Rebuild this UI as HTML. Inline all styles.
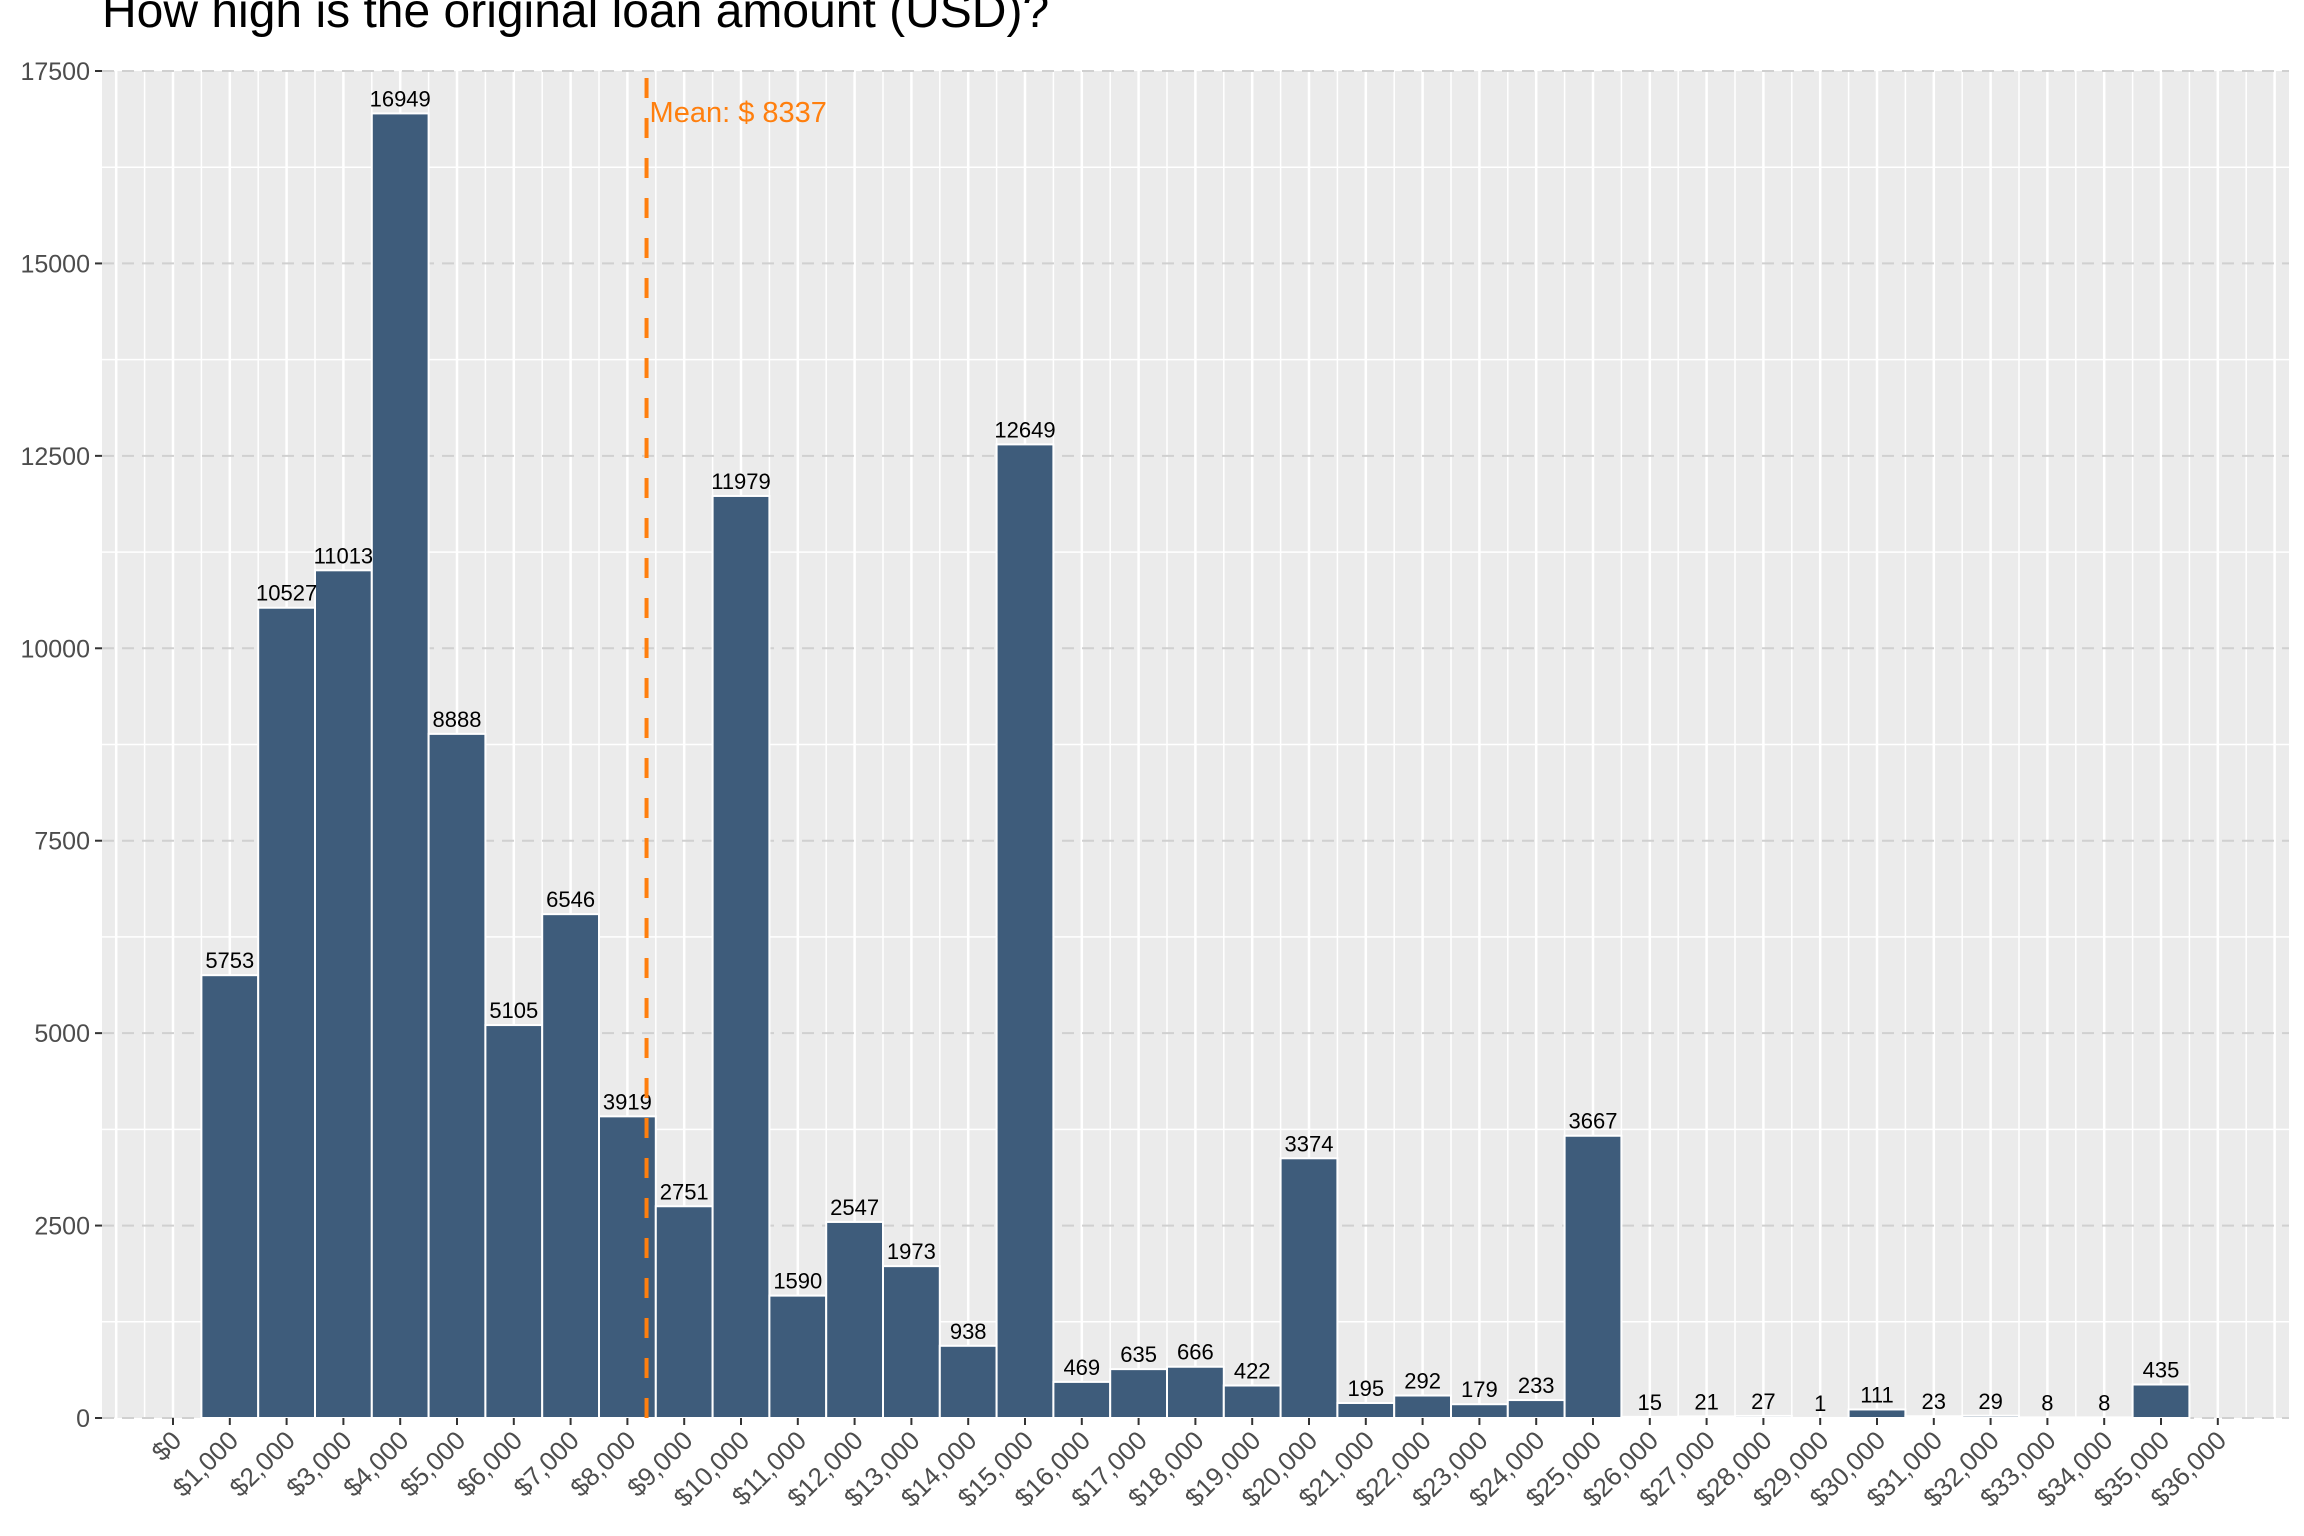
<!DOCTYPE html>
<html><head><meta charset="utf-8"><style>
html,body{margin:0;padding:0;background:#fff;}
svg{display:block;font-family:"Liberation Sans",Arial,sans-serif;}
</style></head><body>
<svg id="chart" width="2304" height="1536" viewBox="0 0 2304 1536" xmlns="http://www.w3.org/2000/svg">
<text x="102" y="27" font-size="48" fill="#000">How high is the original loan amount (USD)?</text>
<g id="grid"></g><g id="bars"></g><g id="labels"></g><g id="axes"></g>
</svg>
<script>
const categories = [1000,2000,3000,4000,5000,6000,7000,8000,9000,10000,11000,12000,13000,14000,15000,16000,17000,18000,19000,20000,21000,22000,23000,24000,25000,26000,27000,28000,29000,30000,31000,32000,33000,34000,35000];
const counts = [5753,10527,11013,16949,8888,5105,6546,3919,2751,11979,1590,2547,1973,938,12649,469,635,666,422,3374,195,292,179,233,3667,15,21,27,1,111,23,29,8,8,435];
const yTicks = [0,2500,5000,7500,10000,12500,15000,17500];
const xTicks = [0,1000,2000,3000,4000,5000,6000,7000,8000,9000,10000,11000,12000,13000,14000,15000,16000,17000,18000,19000,20000,21000,22000,23000,24000,25000,26000,27000,28000,29000,30000,31000,32000,33000,34000,35000,36000];
const meanValue = [8337];
const binWidth = 1000;

const NS='http://www.w3.org/2000/svg';
const PL=102,PR=2289,PT=71,PB=1418;
const xs=v=>173+v*0.0568;
const ys=v=>PB-v*(PB-PT)/17500;
function mk(tag,attrs,parent,txt){const e=document.createElementNS(NS,tag);for(const k in attrs)e.setAttribute(k,attrs[k]);if(txt!==undefined)e.textContent=txt;parent.appendChild(e);return e;}
const grid=document.getElementById('grid'),bars=document.getElementById('bars'),labels=document.getElementById('labels'),axes=document.getElementById('axes');
const bg=mk('rect',{x:PL,y:PT,width:PR-PL,height:PB-PT,fill:'#ebebeb'},grid);


for(let i=0;i<yTicks.length-1;i++){const v=(yTicks[i]+yTicks[i+1])/2;mk('line',{x1:PL,x2:PR,y1:ys(v),y2:ys(v),stroke:'#fff','stroke-width':1.5},grid);}
for(let v=-1000;v<=37000;v+=500){const x=xs(v);if(x<PL||x>PR)continue;mk('line',{x1:x,x2:x,y1:PT,y2:PB,stroke:'#fff','stroke-width':v%1000===0?2.5:1.5},grid);}
yTicks.forEach(v=>{mk('line',{x1:PL,x2:PR,y1:ys(v),y2:ys(v),stroke:'#d0d0d0','stroke-width':2,'stroke-dasharray':'12,8'},grid);});
categories.forEach((c,i)=>{
  const x0=xs(c-binWidth/2),x1=xs(c+binWidth/2),y=ys(counts[i]);
  const r=mk('rect',{x:x0,y:y,width:x1-x0,height:PB-y,fill:'#3e5c7b',stroke:'#fff','stroke-width':2},bars);
  
  
  const t=mk('text',{x:(x0+x1)/2,y:y-7,'font-size':22,'text-anchor':'middle',fill:'#000'},labels,String(counts[i]));
  
  
});
const mx=xs(meanValue[0]);
const ml=mk('line',{x1:mx,x2:mx,y1:PB,y2:PT,stroke:'#ff7f0e','stroke-width':4,'stroke-dasharray':'20,20'},labels);


const mt=mk('text',{x:mx+3,y:122,'font-size':29,fill:'#ff7f0e'},labels,'Mean: $ '+meanValue[0]);


yTicks.forEach(v=>{
  mk('line',{x1:PL-7,x2:PL,y1:ys(v),y2:ys(v),stroke:'#333','stroke-width':2},axes);
  const t=mk('text',{x:PL-12,y:ys(v)+9,'font-size':25,'text-anchor':'end',fill:'#4d4d4d'},axes,String(v));
  
  
});
xTicks.forEach(v=>{
  const x=xs(v);
  mk('line',{x1:x,x2:x,y1:PB,y2:PB+7,stroke:'#333','stroke-width':2},axes);
  const lab='$'+v.toLocaleString('en-US');
  const t=mk('text',{x:x+10,y:PB+24,'font-size':26,'text-anchor':'end',fill:'#4d4d4d',transform:`rotate(-45 ${x+10} ${PB+24})`},axes,lab);
  
  
});
</script>
</body></html>
